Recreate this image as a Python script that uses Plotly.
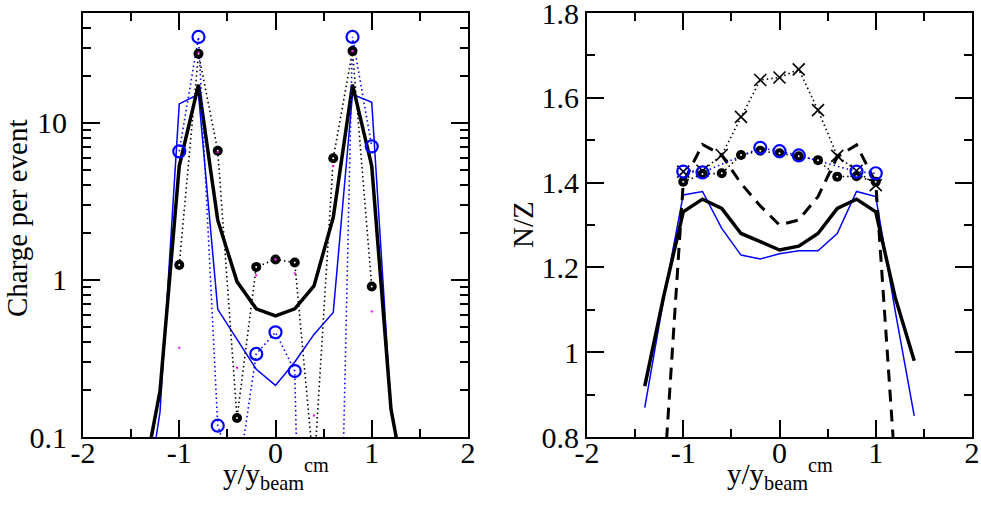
import plotly.graph_objects as go
import math

# ---------------- data ----------------
y_grid = [-1.4, -1.2, -1.0, -0.8, -0.6, -0.4, -0.2, 0.0, 0.2, 0.4, 0.6, 0.8, 1.0, 1.2, 1.4]
y_mid = [-1.0, -0.8, -0.6, -0.4, -0.2, 0.0, 0.2, 0.4, 0.6, 0.8, 1.0]

# left panel: charge per event
charge_thick = [0.044, 0.196, 5.3, 17.5, 2.4, 0.975, 0.655, 0.59, 0.655, 0.916, 2.5, 17.5, 5.3, 0.15, 0.033]
charge_thin = [0.023, 0.144, 13.2, 15.2, 0.65, 0.42, 0.27, 0.213, 0.30, 0.45, 0.62, 15.2, 13.5, 0.15, 0.03]
charge_dots = [1.245, 27.5, 6.64, 0.132, 1.21, 1.35, 1.29, 0.06, 5.95, 28.6, 0.907]
charge_circles = [6.58, 35.2, 0.118, 0.05, 0.338, 0.464, 0.263, 1e-6, 1e-4, 35.2, 7.07]
charge_magenta = [0.37, 28.0, 6.5, 0.276, 1.07, 1.35, 1.10, 0.137, 5.3, 28.6, 0.63]

# right panel: N/Z
nz_thick = [0.92, 1.135, 1.331, 1.361, 1.339, 1.28, 1.261, 1.241, 1.25, 1.28, 1.339, 1.361, 1.331, 1.131, 0.98]
nz_thin = [0.869, 1.13, 1.371, 1.379, 1.292, 1.229, 1.22, 1.232, 1.239, 1.239, 1.28, 1.379, 1.367, 1.10, 0.85]
nz_dash_x = [-1.2, -1.0, -0.8, -0.6, -0.4, -0.2, 0.0, 0.2, 0.4, 0.6, 0.8, 1.0, 1.2]
nz_dash = [0.70, 1.40, 1.49, 1.465, 1.398, 1.345, 1.30, 1.312, 1.367, 1.461, 1.489, 1.40, 0.733]
nz_cross = [1.426, 1.428, 1.465, 1.555, 1.642, 1.648, 1.667, 1.571, 1.463, 1.428, 1.394]
nz_dots = [1.402, 1.420, 1.422, 1.465, 1.475, 1.469, 1.462, 1.453, 1.414, 1.415, 1.402]
nz_circ_x = [-1.0, -0.8, -0.2, 0.0, 0.2, 0.8, 1.0]
nz_circ = [1.426, 1.424, 1.482, 1.474, 1.464, 1.426, 1.422]

x_ticks = [-2, -1, 0, 1, 2]
x_ticktext = ["-2", "-1", "0", "1", "2"]
left_ticks = [0.1, 1, 10]
left_ticktext = ["0.1", "1", "10"]
left_minor = [0.2, 0.3, 0.4, 0.5, 0.6, 0.7, 0.8, 0.9, 2, 3, 4, 5, 6, 7, 8, 9, 20, 30, 40]
right_ticks = [0.8, 1.0, 1.2, 1.4, 1.6, 1.8]
right_ticktext = ["0.8", "1", "1.2", "1.4", "1.6", "1.8"]

x_title = "y/y<sub>beam</sub><sup>cm</sup>"
left_title = "Charge per event"
right_title = "N/Z"

FONT = "Liberation Serif, Times New Roman, serif"
BLUE = "#0000ff"
DOT = "1.5px,3px"

fig = go.Figure()

# ---------------- left panel ----------------
fig.add_trace(go.Scatter(x=y_grid, y=charge_thin, mode="lines",
                         line=dict(color=BLUE, width=1.5), xaxis="x", yaxis="y"))
fig.add_trace(go.Scatter(x=y_grid, y=charge_thick, mode="lines",
                         line=dict(color="black", width=3.5), xaxis="x", yaxis="y"))
fig.add_trace(go.Scatter(x=y_mid, y=charge_dots, mode="lines",
                         line=dict(color="black", width=1.6, dash=DOT), xaxis="x", yaxis="y"))
fig.add_trace(go.Scatter(x=y_mid, y=charge_circles, mode="lines",
                         line=dict(color=BLUE, width=1.6, dash=DOT), xaxis="x", yaxis="y"))
fig.add_trace(go.Scatter(x=y_mid, y=charge_dots, mode="markers",
                         marker=dict(symbol="circle", size=10, color="black"), xaxis="x", yaxis="y"))
fig.add_trace(go.Scatter(x=y_mid, y=charge_dots, mode="markers",
                         marker=dict(symbol="circle", size=2, color="white"), xaxis="x", yaxis="y"))
fig.add_trace(go.Scatter(x=y_mid, y=charge_circles, mode="markers",
                         marker=dict(symbol="circle-open", size=12, color=BLUE, line=dict(width=2.2, color=BLUE)),
                         xaxis="x", yaxis="y"))
fig.add_trace(go.Scatter(x=y_mid, y=charge_magenta, mode="markers",
                         marker=dict(symbol="square", size=2, color="#ff00ff"), xaxis="x", yaxis="y"))

# ---------------- right panel ----------------
fig.add_trace(go.Scatter(x=y_grid, y=nz_thin, mode="lines",
                         line=dict(color=BLUE, width=1.5), xaxis="x2", yaxis="y2"))
fig.add_trace(go.Scatter(x=y_grid, y=nz_thick, mode="lines",
                         line=dict(color="black", width=3.5), xaxis="x2", yaxis="y2"))
fig.add_trace(go.Scatter(x=nz_dash_x, y=nz_dash, mode="lines",
                         line=dict(color="black", width=3, dash="12px,8px"), xaxis="x2", yaxis="y2"))
fig.add_trace(go.Scatter(x=y_mid, y=nz_cross, mode="lines+markers",
                         line=dict(color="black", width=1.6, dash=DOT),
                         marker=dict(symbol="x-thin-open", size=12, color="black", line=dict(width=1.6, color="black")),
                         xaxis="x2", yaxis="y2"))
fig.add_trace(go.Scatter(x=y_mid, y=nz_dots, mode="lines",
                         line=dict(color="black", width=1.6, dash=DOT), xaxis="x2", yaxis="y2"))
fig.add_trace(go.Scatter(x=nz_circ_x, y=nz_circ, mode="lines",
                         line=dict(color=BLUE, width=1.6, dash=DOT), xaxis="x2", yaxis="y2"))
fig.add_trace(go.Scatter(x=y_mid, y=nz_dots, mode="markers",
                         marker=dict(symbol="circle", size=10, color="black"), xaxis="x2", yaxis="y2"))
fig.add_trace(go.Scatter(x=y_mid, y=nz_dots, mode="markers",
                         marker=dict(symbol="circle", size=2, color="white"), xaxis="x2", yaxis="y2"))
fig.add_trace(go.Scatter(x=nz_circ_x, y=nz_circ, mode="markers",
                         marker=dict(symbol="circle-open", size=12, color=BLUE, line=dict(width=2.2, color=BLUE)),
                         xaxis="x2", yaxis="y2"))

W, H = 981, 511
ydom = [1 - 437 / H, 1 - 13 / H]

common_x = dict(range=[-2, 2], tickmode="array", tickvals=x_ticks, ticktext=x_ticktext,
                ticks="inside", ticklen=17, tickwidth=1.5, tickcolor="black",
                minor=dict(dtick=0.5, tick0=0, ticks="inside", ticklen=8, tickwidth=1.5, tickcolor="black"),
                showline=True, linecolor="black", linewidth=2, mirror="allticks",
                showgrid=False, zeroline=False, ticklabelstandoff=-12, ticklabeloverflow="allow",
                tickfont=dict(family=FONT, size=30, color="black"),
                automargin=False, fixedrange=True)

fig.update_layout(
    width=W, height=H,
    margin=dict(l=0, r=0, t=0, b=0),
    paper_bgcolor="white", plot_bgcolor="white",
    showlegend=False,
    xaxis=dict(domain=[83 / W, 468 / W], anchor="y", **common_x),
    xaxis2=dict(domain=[587 / W, 972 / W], anchor="y2", **common_x),
    yaxis=dict(domain=ydom, anchor="x", type="log", range=[-1, math.log10(50)],
               tickmode="array", tickvals=left_ticks, ticktext=left_ticktext,
               ticks="inside", ticklen=17, tickwidth=1.5, tickcolor="black",
               minor=dict(tickmode="array", tickvals=left_minor, ticks="inside", ticklen=8,
                          tickwidth=1.5, tickcolor="black"),
               showline=True, linecolor="black", linewidth=2, mirror="allticks",
               showgrid=False, zeroline=False, ticklabelstandoff=8, ticklabeloverflow="allow",
               tickfont=dict(family=FONT, size=30, color="black"),
               automargin=False, fixedrange=True),
    yaxis2=dict(domain=ydom, anchor="x2", range=[0.8, 1.8],
                tickmode="array", tickvals=right_ticks, ticktext=right_ticktext,
                ticks="inside", ticklen=17, tickwidth=1.5, tickcolor="black",
                minor=dict(dtick=0.1, tick0=0.8, ticks="inside", ticklen=8, tickwidth=1.5, tickcolor="black"),
                showline=True, linecolor="black", linewidth=2, mirror="allticks",
                showgrid=False, zeroline=False, ticklabelstandoff=0, ticklabeloverflow="allow",
                tickfont=dict(family=FONT, size=30, color="black"),
                automargin=False, fixedrange=True),
)

title_font = dict(family=FONT, size=29, color="black")
annos = [
    dict(text=x_title, x=276 / W, y=1 - 453 / H, xanchor="center", yanchor="top"),
    dict(text=x_title, x=780 / W, y=1 - 453 / H, xanchor="center", yanchor="top"),
    dict(text=left_title, x=17 / W, y=1 - 218 / H, xanchor="center", yanchor="middle", textangle=-90),
    dict(text=right_title, x=523 / W, y=1 - 225 / H, xanchor="center", yanchor="middle", textangle=-90),
]
for a in annos:
    fig.add_annotation(xref="paper", yref="paper", showarrow=False, font=title_font, borderpad=0, **a)

fig.write_html("out.html", config={"displayModeBar": False},
               post_script="document.body.style.margin='0px';document.body.style.overflow='hidden';")
